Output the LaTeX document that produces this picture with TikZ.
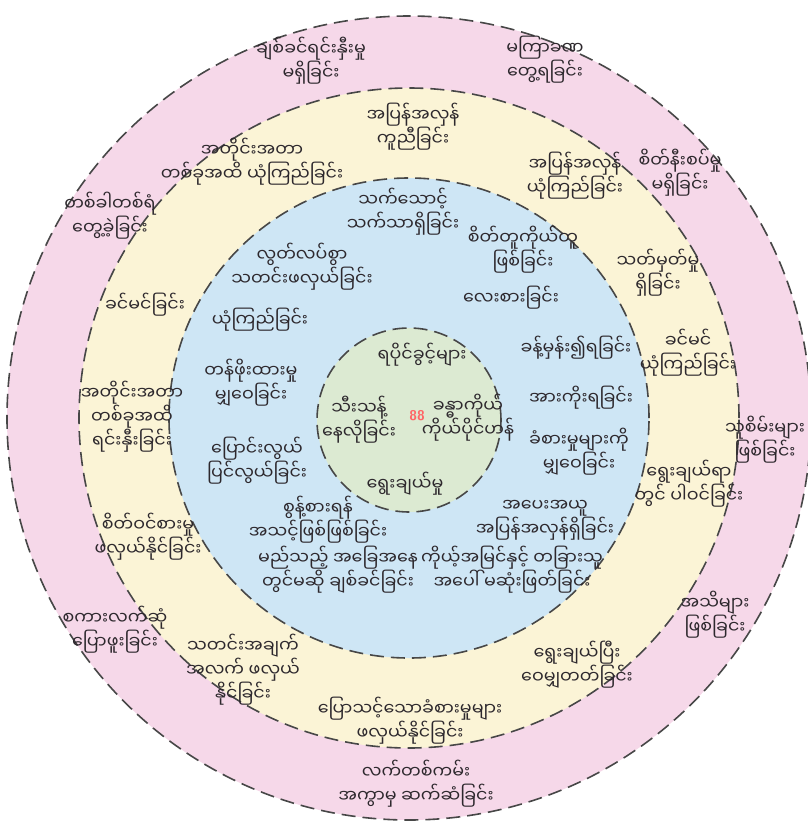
\documentclass[tikz,border=0pt]{standalone}
\usepackage{fontspec}
\newfontfamily\mmfont[Script=Myanmar]{Noto Sans Myanmar UI}
\definecolor{ringpink}{RGB}{246,216,233}
\definecolor{ringyellow}{RGB}{251,244,214}
\definecolor{ringblue}{RGB}{206,230,245}
\definecolor{ringgreen}{RGB}{220,234,210}
\definecolor{inktext}{RGB}{45,40,45}

\begin{document}
\begin{tikzpicture}[x=1pt,y=-1pt,
  lbl/.style={font=\mmfont\fontsize{17.5}{24}\selectfont, align=center, inner sep=0pt, text=inktext},
  ring/.style={draw=black!72, line width=1.6pt, dash pattern=on 14pt off 7pt}]
  \useasboundingbox (0,0) rectangle (807,825);
  \draw[ring, fill=ringpink] (409,418) circle[radius=402pt];
  \draw[ring, fill=ringyellow] (409,418) circle[radius=330pt];
  \draw[ring, fill=ringblue] (409,418) circle[radius=240pt];
  \draw[ring, fill=ringgreen] (409,420) circle[radius=92pt];

  % outer ring
  \node[lbl] (p1) at (311,61) {ချစ်ခင်ရင်းနှီးမှု\\မရှိခြင်း};
  \node[lbl] (p2) at (545,60) {မကြာခဏ\\တွေ့ရခြင်း};
  \node[lbl] (p3) at (680,173) {စိတ်နီးစပ်မှု\\မရှိခြင်း};
  \node[lbl] (p4) at (765,440) {သူစိမ်းများ\\ဖြစ်ခြင်း};
  \node[lbl] (p5) at (715,615) {အသိများ\\ဖြစ်ခြင်း};
  \node[lbl] (p6) at (416,784) {လက်တစ်ကမ်း\\အကွာမှ ဆက်ဆံခြင်း};
  \node[lbl] (p7) at (115,630) {စကားလက်ဆုံ\\ပြောဖူးခြင်း};
  \node[lbl] (p8) at (110,216) {တစ်ခါတစ်ရံ\\တွေ့ခဲ့ခြင်း};

  % yellow ring
  \node[lbl] (y1) at (413,127) {အပြန်အလှန်\\ကူညီခြင်း};
  \node[lbl] (y2) at (252,162) {အတိုင်းအတာ\\တစ်ခုအထိ ယုံကြည်ခြင်း};
  \node[lbl] (y3) at (575,176) {အပြန်အလှန်\\ယုံကြည်ခြင်း};
  \node[lbl] (y4) at (658,273) {သတ်မှတ်မှု\\ရှိခြင်း};
  \node[lbl] (y5) at (688,353) {ခင်မင်\\ယုံကြည်ခြင်း};
  \node[lbl] (y6) at (689,484) {ရွေးချယ်ရာ\\တွင် ပါဝင်ခြင်း};
  \node[lbl] (y7) at (577,665) {ရွေးချယ်ပြီး\\ဝေမျှတတ်ခြင်း};
  \node[lbl] (y8) at (410,721) {ပြောသင့်သောခံစားမှုများ\\ဖလှယ်နိုင်ခြင်း};
  \node[lbl] (y9) at (243,670) {သတင်းအချက်\\အလက် ဖလှယ်\\နိုင်ခြင်း};
  \node[lbl] (y10) at (148,537) {စိတ်ဝင်စားမှု\\ဖလှယ်နိုင်ခြင်း};
  \node[lbl] (y11) at (132,417) {အတိုင်းအတာ\\တစ်ခုအထိ\\ရင်းနှီးခြင်း};
  \node[lbl] (y12) at (145,305) {ခင်မင်ခြင်း};

  % blue ring
  \node[lbl] (b1) at (403,212) {သက်သောင့်\\သက်သာရှိခြင်း};
  \node[lbl] (b2) at (302,267) {လွတ်လပ်စွာ\\သတင်းဖလှယ်ခြင်း};
  \node[lbl] (b3) at (523,250) {စိတ်တူကိုယ်တူ\\ဖြစ်ခြင်း};
  \node[lbl] (b4) at (511,298) {လေးစားခြင်း};
  \node[lbl] (b5) at (576,348) {ခန့်မှန်း၍ရခြင်း};
  \node[lbl] (b6) at (581,398) {အားကိုးရခြင်း};
  \node[lbl] (b7) at (579,452) {ခံစားမှုများကို\\မျှဝေခြင်း};
  \node[lbl] (b8) at (545,520) {အပေးအယူ\\အပြန်အလှန်ရှိခြင်း};
  \node[lbl] (b9) at (512,570) {ကိုယ့်အမြင်နှင့် တခြားသူ\\အပေါ် မဆုံးဖြတ်ခြင်း};
  \node[lbl] (b10) at (338,570) {မည်သည့် အခြေအနေ\\တွင်မဆို ချစ်ခင်ခြင်း};
  \node[lbl] (b11) at (318,520) {စွန့်စားရန်\\အသင့်ဖြစ်ဖြစ်ခြင်း};
  \node[lbl] (b12) at (257,461) {ပြောင်းလွယ်\\ပြင်လွယ်ခြင်း};
  \node[lbl] (b13) at (251,383) {တန်ဖိုးထားမှု\\မျှဝေခြင်း};
  \node[lbl] (b14) at (260,320) {ယုံကြည်ခြင်း};

  % core
  \node[lbl] (g1) at (422,355) {ရပိုင်ခွင့်များ};
  \node[lbl] (g2) at (359,420) {သီးသန့်\\နေလိုခြင်း};
  \node[lbl] (g3) at (468,418) {ခန္ဓာကိုယ်\\ကိုယ်ပိုင်ဟန်};
  \node[lbl] (g4) at (405,484) {ရွေးချယ်မှု};
  \node[font=\sffamily\bfseries\fontsize{14}{14}\selectfont, text=red!60] (mark) at (417,416) {88};
\end{tikzpicture}
\end{document}
